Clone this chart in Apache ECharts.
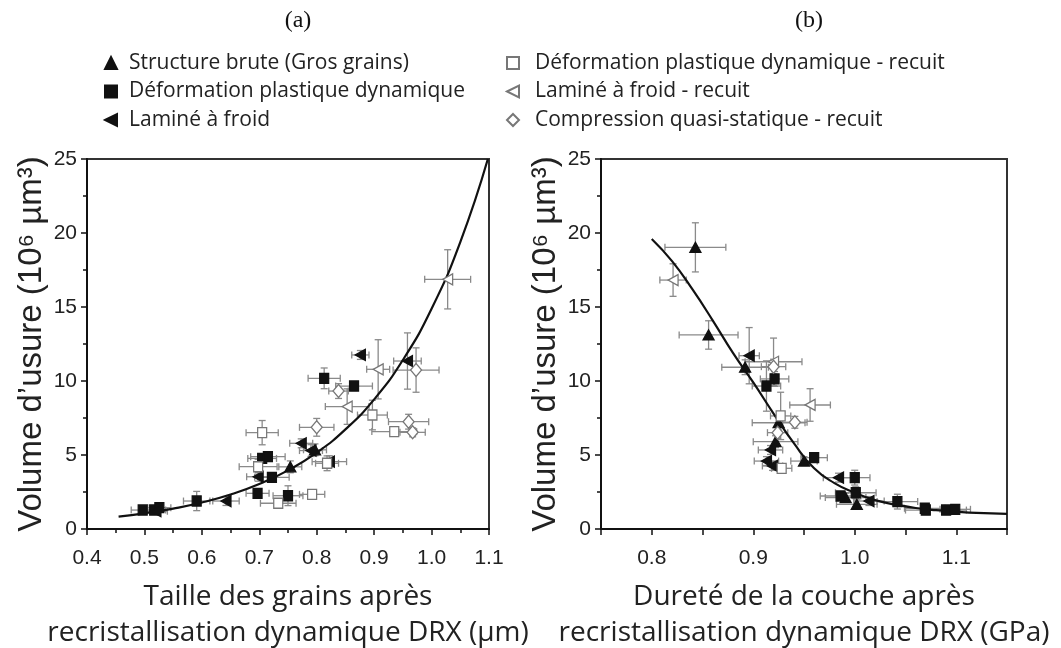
<!DOCTYPE html>
<html><head><meta charset="utf-8">
<script src="https://cdn.jsdelivr.net/npm/echarts@6/dist/echarts.min.js"></script>
<style>html,body{margin:0;padding:0;background:#fff}#c{width:1061px;height:648px}</style>
</head><body><div id="c"></div>
<script>
// ---- data: [x, y, xErr, yErr] ----
// Panel (a): grain size after DRX (µm) vs wear volume
const A_brute = [[0.797,5.35,0.02,0.4],[0.754,4.20,0.02,0.4]];
const A_dpd = [[0.813,10.18,0.028,0.7],[0.865,9.66,0.032,0.3],[0.705,4.77,0.025,0.3],[0.715,4.89,0.03,0.3],
  [0.722,3.49,0.03,0.3],[0.697,2.41,0.02,0.2],[0.750,2.25,0.026,0.67],[0.591,1.89,0.023,0.65],
  [0.497,1.28,0.02,0.2],[0.517,1.28,0.02,0.2],[0.526,1.44,0.02,0.2]];
const A_lam = [[0.876,11.76,0.015,0.3],[0.958,11.35,0.024,1.9],[0.773,5.79,0.02,0.3],[0.790,5.30,0.02,0.4],
  [0.822,4.55,0.03,0.4],[0.698,3.53,0.02,0.3],[0.642,1.89,0.023,0.3],[0.520,1.20,0.02,0.2]];
const A_dpdr = [[0.705,6.51,0.028,0.82],[0.897,7.70,0.026,1.0],[0.935,6.58,0.039,0.3],[0.698,4.21,0.033,0.5],
  [0.818,4.44,0.02,0.5],[0.792,2.34,0.022,0.2],[0.733,1.74,0.031,0.2]];
const A_lamr = [[1.028,16.87,0.04,2.0],[0.907,10.79,0.02,2.0],[0.853,8.27,0.038,1.2]];
const A_cqs = [[0.973,10.74,0.04,1.5],[0.838,9.32,0.017,0.5],[0.960,7.25,0.035,0.5],[0.967,6.53,0.022,0.3],[0.800,6.87,0.03,0.6]];
const A_fit = [[0.455,0.83],[0.50,1.06],[0.55,1.38],[0.60,1.79],[0.65,2.33],[0.70,3.04],[0.75,3.96],[0.80,5.16],
  [0.85,6.73],[0.90,8.76],[0.95,11.42],[1.00,14.88],[1.05,19.39],[1.098,25.0]];
// Panel (b): hardness after DRX (GPa) vs wear volume
const B_brute = [[0.843,19.03,0.03,1.66],[0.856,13.11,0.029,0.96],[0.892,10.93,0.023,0.5],[0.925,7.18,0.026,0.5],
  [0.922,5.90,0.022,0.4],[0.950,4.59,0.013,0.3],[0.991,2.12,0.02,0.3],[1.002,1.67,0.02,0.3]];
const B_dpd = [[0.921,10.14,0.014,0.5],[0.913,9.66,0.014,1.7],[0.960,4.82,0.013,0.3],[1.000,3.47,0.015,0.5],
  [0.986,2.23,0.02,0.3],[1.001,2.45,0.02,0.4],[1.042,1.85,0.02,0.5],[1.069,1.40,0.02,0.3],[1.070,1.28,0.02,0.3],
  [1.090,1.28,0.02,0.3],[1.099,1.33,0.015,0.2]];
const B_lam = [[0.896,11.71,0.01,1.9],[0.917,5.34,0.012,0.3],[0.913,4.59,0.012,0.3],[0.919,4.26,0.01,0.3],
  [0.984,3.47,0.015,0.3],[1.014,1.89,0.015,0.3]];
const B_dpdr = [[0.927,7.64,0.01,1.6],[0.928,4.10,0.01,0.3]];
const B_lamr = [[0.821,16.82,0.013,1.1],[0.920,11.30,0.028,1.6],[0.956,8.38,0.02,1.1]];
const B_cqs = [[0.920,10.97,0.012,0.5],[0.941,7.21,0.012,0.4],[0.924,6.51,0.01,0.4]];
const B_fit = [[0.80,19.6],[0.82,18.1],[0.84,16.2],[0.86,14.1],[0.88,11.9],[0.90,9.9],[0.92,7.8],[0.94,5.8],
  [0.96,4.1],[0.98,3.1],[1.00,2.45],[1.02,1.95],[1.04,1.65],[1.06,1.42],[1.08,1.27],[1.10,1.17],[1.12,1.09],[1.15,1.02]];

const NAMES = ['Structure brute (Gros grains)','Déformation plastique dynamique','Laminé à froid',
  'Déformation plastique dynamique - recuit','Laminé à froid - recuit','Compression quasi-statique - recuit'];
const X_TITLES = ['Taille des grains après\nrecristallisation dynamique DRX (µm)','Dureté de la couche après\nrecristallisation dynamique DRX (GPa)'];
const Y_TITLE = 'Volume d’usure (10⁶ µm³)';

const LEFT_TRI = 'path://M0,5L10,0L10,10Z';
const STYLES = [
  {symbol:'triangle', size:[11,10], fill:'#111', stroke:'#111'},
  {symbol:'rect', size:[9,10], fill:'#111', stroke:'#111'},
  {symbol:LEFT_TRI, size:[10,11], fill:'#111', stroke:'#111'},
  {symbol:'rect', size:[9,10], fill:'#fff', stroke:'#777'},
  {symbol:LEFT_TRI, size:[10,11], fill:'#fff', stroke:'#777'},
  {symbol:'diamond', size:[11,13], fill:'#fff', stroke:'#777'}
];

function errRender(params, api) {
  const x = api.value(0), y = api.value(1), ex = api.value(2), ey = api.value(3);
  const c = api.coord([x, y]);
  const l = api.coord([x - ex, y])[0], r = api.coord([x + ex, y])[0];
  const t = api.coord([x, y + ey])[1], b = api.coord([x, y - ey])[1];
  const cap = 3.5;
  const style = {stroke: '#8a8a8a', lineWidth: 1.3};
  const ln = (x1,y1,x2,y2) => ({type:'line', shape:{x1,y1,x2,y2}, style});
  return {type:'group', children:[
    ln(l,c[1],r,c[1]), ln(l,c[1]-cap,l,c[1]+cap), ln(r,c[1]-cap,r,c[1]+cap),
    ln(c[0],t,c[0],b), ln(c[0]-cap,t,c[0]+cap,t), ln(c[0]-cap,b,c[0]+cap,b)
  ]};
}

const panels = [
  {sets:[A_brute,A_dpd,A_lam,A_dpdr,A_lamr,A_cqs], fit:A_fit},
  {sets:[B_brute,B_dpd,B_lam,B_dpdr,B_lamr,B_cqs], fit:B_fit}
];
const series = [];
panels.forEach((p, i) => {
  series.push({type:'custom', xAxisIndex:i, yAxisIndex:i, renderItem:errRender, z:1, silent:true,
    encode:{x:0, y:1}, data:[].concat(...p.sets)});
  series.push({type:'line', xAxisIndex:i, yAxisIndex:i, data:p.fit, smooth:true, showSymbol:false, symbol:'none',
    lineStyle:{color:'#111', width:2.2}, z:2, silent:true});
  p.sets.forEach((d, k) => {
    const s = STYLES[k];
    series.push({type:'scatter', name:NAMES[k], xAxisIndex:i, yAxisIndex:i, data:d, symbol:s.symbol,
      symbolSize:s.size, itemStyle:{color:s.fill, borderColor:s.stroke, borderWidth:1.3, opacity:1}, z:3});
  });
});

const tickFont = {fontFamily:'Liberation Sans', fontSize:21, color:'#222'};
function xAxis(i, min, max, interval, fmt) {
  return {type:'value', gridIndex:i, min, max, interval,
    axisLine:{show:true, onZero:false, lineStyle:{color:'#111', width:2}},
    axisTick:{show:true, inside:false, length:6, lineStyle:{color:'#111', width:1.5}},
    minorTick:{show:i===0, splitNumber:2, length:4, lineStyle:{color:'#111', width:1.5}},
    splitLine:{show:false},
    axisLabel:Object.assign({margin:19, formatter:fmt, showMinLabel:true, showMaxLabel:true}, tickFont),
    name:X_TITLES[i], nameLocation:'middle', nameGap:50,
    nameTextStyle:{fontFamily:'Open Sans', fontSize:28, lineHeight:36, color:'#222'}};
}
function yAxis(i) {
  return {type:'value', gridIndex:i, min:0, max:25, interval:5,
    axisLine:{show:true, onZero:false, lineStyle:{color:'#111', width:2}},
    axisTick:{show:true, length:6, lineStyle:{color:'#111', width:1.5}},
    minorTick:{show:true, splitNumber:2, length:4, lineStyle:{color:'#111', width:1.5}},
    splitLine:{show:false},
    axisLabel:Object.assign({margin:10}, tickFont),
    name:Y_TITLE, nameLocation:'middle', nameGap:39,
    nameTextStyle:{fontFamily:'Liberation Sans', fontSize:33, color:'#222'}};
}

const legendText = {fontFamily:'Open Sans', fontSize:21, lineHeight:22, color:'#222'};
const chart = echarts.init(document.getElementById('c'), null, {renderer:'canvas'});
chart.setOption({
  animation:false,
  backgroundColor:'#fff',
  graphic:[
    {type:'text', x:298, y:21, style:{text:'(a)', align:'center', verticalAlign:'middle', textAlign:'center', textVerticalAlign:'middle', font:'24px "Liberation Serif"', fill:'#111'}},
    {type:'text', x:809, y:21, style:{text:'(b)', align:'center', verticalAlign:'middle', textAlign:'center', textVerticalAlign:'middle', font:'24px "Liberation Serif"', fill:'#111'}}
  ],
  legend:[
    {data:NAMES.slice(0,3), orient:'vertical', left:99, top:47, itemWidth:12, itemHeight:12, itemGap:6.5,
      selectedMode:false, textStyle:Object.assign({padding:[0,0,0,7]}, legendText)},
    {data:NAMES.slice(3,6), orient:'vertical', left:501, top:47, itemWidth:12, itemHeight:12, itemGap:6.5,
      selectedMode:false, textStyle:Object.assign({padding:[0,0,0,11]}, legendText)}
  ],
  grid:[
    {left:87, top:159, width:402, height:370, show:true, borderColor:'#333', borderWidth:2, backgroundColor:'transparent', outerBoundsMode:'none', containLabel:false},
    {left:601, top:159, width:406, height:370, show:true, borderColor:'#333', borderWidth:2, backgroundColor:'transparent', outerBoundsMode:'none', containLabel:false}
  ],
  xAxis:[
    xAxis(0, 0.4, 1.1, 0.1, v => v.toFixed(1)),
    xAxis(1, 0.75, 1.15, 0.05, v => { const t = Math.round(v*100); return t % 10 === 0 ? v.toFixed(1) : ''; })
  ],
  yAxis:[yAxis(0), yAxis(1)],
  series
});
</script></body></html>
